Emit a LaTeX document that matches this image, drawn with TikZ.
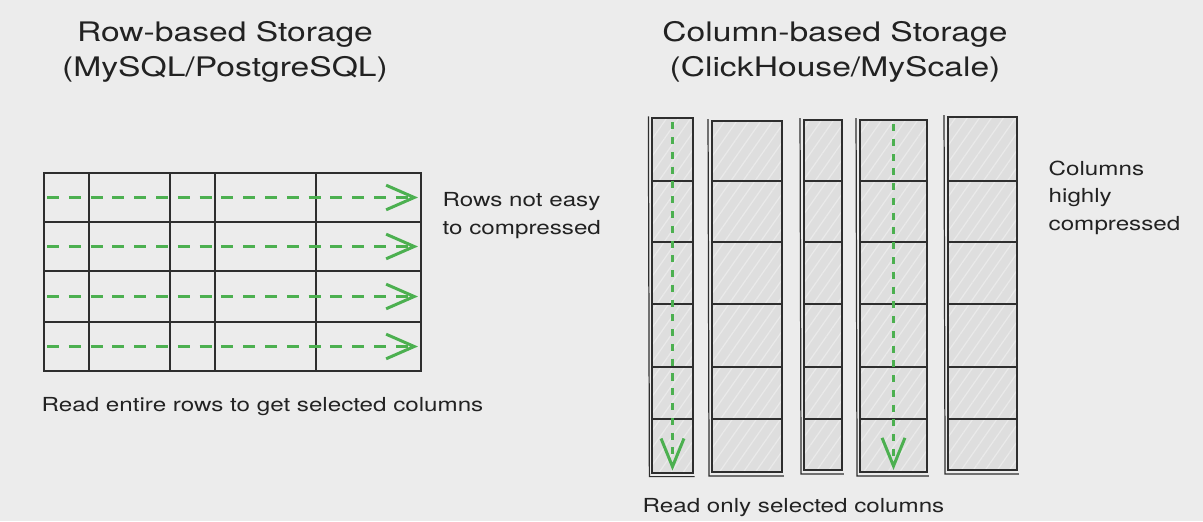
\documentclass[tikz,border=0pt]{standalone}
\usepackage{fontspec}
\setmainfont{TeX Gyre Heros}[FakeStretch=1.25]
\usetikzlibrary{arrows.meta,positioning,fit,patterns.meta}
\definecolor{paper}{RGB}{236,236,236}
\definecolor{ink}{RGB}{46,46,46}
\definecolor{textink}{RGB}{34,34,34}
\definecolor{readgreen}{RGB}{76,176,80}
\definecolor{colfill}{RGB}{222,222,222}
\definecolor{hatch}{RGB}{234,234,234}

\begin{document}
\begin{tikzpicture}[x=0.01cm,y=-0.01cm,
    every node/.style={text=textink,inner sep=0pt},
    title/.style={font=\fontsize{7.65}{9.7}\selectfont,align=center,anchor=base},
    note/.style={font=\fontsize{5.5}{7.8}\selectfont,align=left,anchor=base west},
    rowcell/.style={draw=ink,line width=0.55pt},
    colbox/.style={draw=ink,line width=0.55pt,preaction={fill=colfill},
        pattern={Lines[angle=55,distance=2.8pt,line width=0.35pt]},pattern color=hatch},
    cellline/.style={ink,line width=0.55pt},
    sketchline/.style={ink,line width=0.35pt},
    rowread/.style={readgreen,line width=0.85pt,dash pattern=on 3.4pt off 2.8pt,
        -{Straight Barb[length=8pt,width=7pt]}},
    colread/.style={readgreen,line width=0.6pt,dash pattern=on 2pt off 2.2pt,
        -{Straight Barb[length=8pt,width=6.5pt,line width=0.85pt]}},
]
\fill[paper] (0,0) rectangle (1203,521);
\useasboundingbox (0,0) rectangle (1203,521);

% titles
\node[title] (rowtitle) at (225,76) {Row-based Storage\\(MySQL/PostgreSQL)};
\node[title] (coltitle) at (835,76) {Column-based Storage\\(ClickHouse/MyScale)};

% row store: one box per row, read left to right
\foreach \r/\yt/\yb in {1/173/222, 2/222/271, 3/271/322, 4/322/371}
    \node[rowcell,fit={(44,\yt) (421,\yb)}] (row\r) {};
\foreach \x in {89,170,215,316}
    \draw[cellline] (row1.north -| \x,0) -- (row4.south -| \x,0);
\foreach \r in {1,...,4}
    \draw[rowread] ([shift={(4,0)}]row\r.west) -- ([shift={(-4,0)}]row\r.east);

\node[note] (rownote) at (442,234) {Rows not easy\\to compressed};
\node[note] (readrows) at (41,411) {Read entire rows to get selected columns};

% column store: hatched columns
\foreach \c/\xl/\xr/\yt/\yb in {1/652/693/118/473, 2/712/782/121/472, 3/804/842/120/470,
                                4/860/927/120/472, 5/948/1017/117/470}{
    \node[colbox,fit={(\xl,\yt) (\xr,\yb)}] (col\c) {};
    \draw[sketchline] ([shift={(-3,-1)}]col\c.north west) -- ([shift={(-2,3)}]col\c.south west)
        -- ([shift={(1,3)}]col\c.south east);
    \foreach \y in {181,242,304,367,419}
        \draw[cellline] ([shift={(2,0)}]col\c.west |- 0,\y) -- ([shift={(-2,0)}]col\c.east |- 0,\y);
}
\draw[colread] ([shift={(0,5)}]col1.north) -- ([shift={(0,-3)}]col1.south);
\draw[colread] ([shift={(0,5)}]col4.north) -- ([shift={(0,-3)}]col4.south);

\node[note] (colnote) at (1048,230) {Columns\\highly\\compressed};
\node[note] (readcols) at (642,512) {Read only selected columns};
\end{tikzpicture}
\end{document}
